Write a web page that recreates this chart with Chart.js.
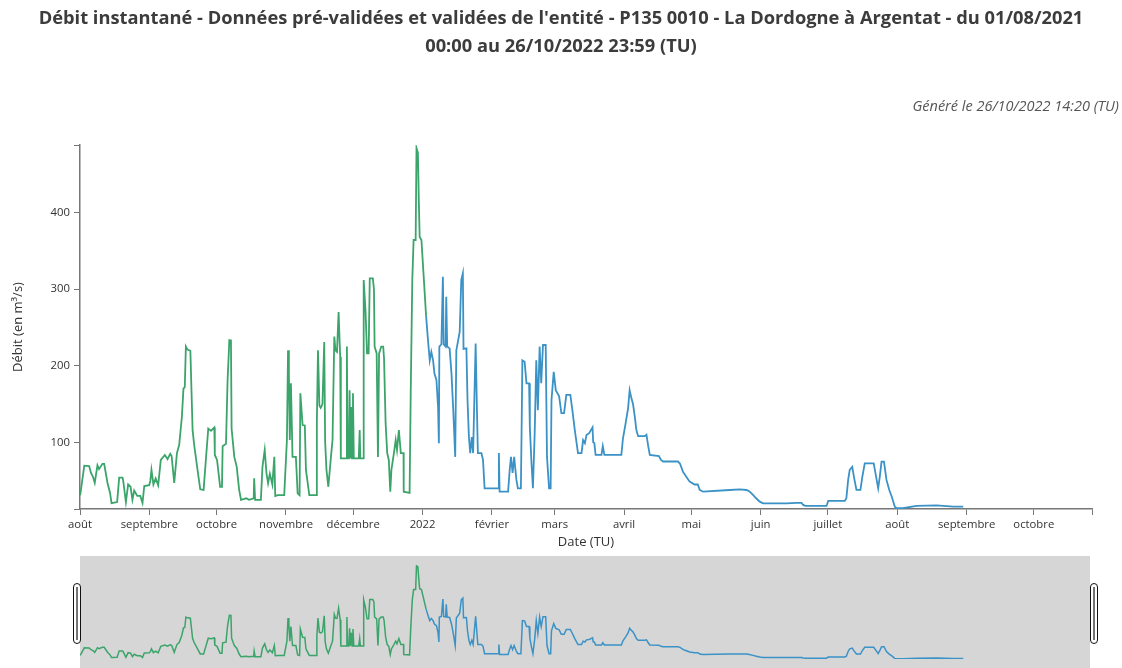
<!DOCTYPE html>
<html><head><meta charset="utf-8">
<script src="https://cdn.jsdelivr.net/npm/chart.js@4/dist/chart.umd.min.js"></script>
<style>
body{margin:0;background:#fff;width:1122px;height:668px;overflow:hidden;position:relative;font-family:'Open Sans',sans-serif;}
#t{position:absolute;left:0;top:3px;width:1122px;text-align:center;font-weight:bold;font-size:18.3px;line-height:28px;color:#3c3c3c;}
#g{position:absolute;right:3px;top:97px;font-style:italic;font-size:14.5px;line-height:18px;color:#555;}
#main{position:absolute;left:0;top:0;}
#nav{position:absolute;left:0;top:550px;}
</style></head><body>
<canvas id="main" width="1122" height="560"></canvas>
<canvas id="nav" width="1122" height="118"></canvas>
<div id="t">Débit instantané - Données pré-validées et validées de l'entité - P135 0010 - La Dordogne à Argentat - du 01/08/2021<br>00:00 au 26/10/2022 23:59 (TU)</div>
<div id="g">Généré le 26/10/2022 14:20 (TU)</div>
<script>
// ---- data ----
const xTickDates = ['2021-08-01','2021-09-01','2021-10-01','2021-11-01','2021-12-01','2022-01-01','2022-02-01','2022-03-01','2022-04-01','2022-05-01','2022-06-01','2022-07-01','2022-08-01','2022-09-01','2022-10-01'];
const xTickLabels = ['août','septembre','octobre','novembre','décembre','2022','février','mars','avril','mai','juin','juillet','août','septembre','octobre'];
const yTickValues = [100,200,300,400];

const greenDates = [
'2021-08-01 02:00','2021-08-02 22:00','2021-08-05 02:00','2021-08-05 22:00','2021-08-06 19:00','2021-08-07 14:00','2021-08-08 19:00','2021-08-09 12:00','2021-08-11 00:00','2021-08-11 19:00','2021-08-13 07:00','2021-08-14 10:00','2021-08-15 02:00','2021-08-17 14:00','2021-08-18 12:00','2021-08-20 00:00','2021-08-20 07:00','2021-08-21 12:00','2021-08-22 12:00','2021-08-23 14:00','2021-08-24 10:00','2021-08-25 05:00','2021-08-26 14:00','2021-08-27 22:00','2021-08-28 22:00','2021-08-29 17:00','2021-08-31 22:00',
'2021-09-01 10:00','2021-09-01 22:00','2021-09-02 19:00','2021-09-03 19:00','2021-09-04 22:00','2021-09-06 02:00','2021-09-07 22:00','2021-09-09 02:00','2021-09-10 07:00','2021-09-10 22:00','2021-09-12 02:00','2021-09-13 07:00','2021-09-14 07:00','2021-09-15 12:00','2021-09-16 05:00','2021-09-16 19:00','2021-09-17 07:00','2021-09-18 00:00','2021-09-19 07:00','2021-09-20 07:00','2021-09-21 00:00','2021-09-22 12:00','2021-09-23 17:00','2021-09-25 05:00','2021-09-26 05:00','2021-09-27 07:00','2021-09-28 12:00','2021-09-30 00:00','2021-09-30 05:00',
'2021-10-01 05:00','2021-10-02 14:00','2021-10-03 10:00','2021-10-03 17:00','2021-10-05 05:00','2021-10-05 22:00','2021-10-06 17:00','2021-10-07 10:00','2021-10-07 17:00','2021-10-08 22:00','2021-10-10 00:00','2021-10-11 02:00','2021-10-11 22:00','2021-10-14 07:00','2021-10-15 12:00','2021-10-17 14:00','2021-10-17 19:00','2021-10-18 05:00','2021-10-20 19:00','2021-10-21 12:00','2021-10-22 12:00','2021-10-23 07:00','2021-10-24 00:00','2021-10-24 19:00','2021-10-25 22:00','2021-10-26 19:00','2021-10-27 05:00','2021-10-28 10:00','2021-10-31 05:00',
'2021-11-01 10:00','2021-11-01 22:00','2021-11-02 07:00','2021-11-02 17:00','2021-11-03 05:00','2021-11-03 22:00','2021-11-05 10:00','2021-11-06 05:00','2021-11-07 02:00','2021-11-07 10:00','2021-11-08 10:00','2021-11-09 10:00','2021-11-09 22:00','2021-11-11 10:00','2021-11-14 10:00','2021-11-14 19:00','2021-11-15 07:00','2021-11-15 22:00','2021-11-16 12:00','2021-11-17 07:00','2021-11-18 02:00','2021-11-18 12:00','2021-11-19 02:00','2021-11-19 22:00','2021-11-21 02:00','2021-11-21 19:00','2021-11-22 14:00','2021-11-23 02:00','2021-11-23 19:00','2021-11-24 12:00','2021-11-25 05:00','2021-11-25 12:00','2021-11-26 12:00','2021-11-27 07:00','2021-11-27 22:00','2021-11-28 05:00','2021-11-28 12:00','2021-11-29 02:00','2021-11-29 10:00','2021-11-29 17:00','2021-11-30 05:00','2021-11-30 12:00','2021-11-30 22:00',
'2021-12-01 07:00','2021-12-03 12:00','2021-12-03 22:00','2021-12-04 05:00','2021-12-05 10:00','2021-12-05 17:00','2021-12-06 12:00','2021-12-07 05:00','2021-12-07 22:00','2021-12-08 10:00','2021-12-09 19:00','2021-12-10 07:00','2021-12-10 14:00','2021-12-11 12:00','2021-12-12 02:00','2021-12-12 14:00','2021-12-13 14:00','2021-12-14 10:00','2021-12-14 19:00','2021-12-15 12:00','2021-12-16 05:00','2021-12-16 22:00','2021-12-17 14:00','2021-12-18 02:00','2021-12-19 05:00','2021-12-20 00:00','2021-12-20 14:00','2021-12-21 10:00','2021-12-22 07:00','2021-12-23 12:00','2021-12-23 14:00','2021-12-26 05:00','2021-12-26 17:00','2021-12-27 10:00','2021-12-28 00:00','2021-12-28 22:00','2021-12-29 07:00','2021-12-29 22:00','2021-12-30 07:00','2021-12-30 17:00','2021-12-31 12:00','2022-01-01 10:00','2022-01-02 10:00','2022-01-02 14:00'];
const greenValues = [
31,69.5,69,60,55,47,70,65,72,72,47,34,20.5,22,54,54,50,22,45,42,25,37,30,30,21,43,44,
50,64,45,53,44,77,83.5,78,85,82,47,86,96.5,133,170,172,225,221,219.5,116,96.5,64,38.7,38,77,118,115,119.5,83.5,
77,42,42,95,98,181,233.5,233,118,81,68,38,25,27,25,27,53,25,25,68,90,59.6,46.6,59,45,81,30,31,31,
103,220,190,103,177,81,81,33.5,31,164,122.6,122,64,31,31,127,220,148,145,150,231,100,64,42,81,103,238,220,218,270,211.7,79,79,79,79,225,79,79,168,79,146,79,164,
79,79,116,79,79,311.7,272.6,216,216,314,314,300,225,216,81,216,225,225,210,125,86,77,35.6,64,86,103,90,116,86,86,35.6,34,164,311.7,364,364,484,478,420,368,364,320.5,272.6,265];

const blueDates = [
'2022-01-02 14:00','2022-01-03 10:00','2022-01-04 05:00','2022-01-04 22:00','2022-01-05 17:00','2022-01-06 07:00','2022-01-07 05:00','2022-01-07 22:00','2022-01-08 07:00','2022-01-08 12:00','2022-01-09 10:00','2022-01-10 02:00','2022-01-10 10:00','2022-01-11 07:00','2022-01-11 14:00','2022-01-12 00:00','2022-01-13 02:00','2022-01-13 22:00','2022-01-14 17:00','2022-01-15 14:00','2022-01-16 02:00','2022-01-17 14:00','2022-01-18 07:00','2022-01-19 00:00','2022-01-19 07:00','2022-01-20 14:00','2022-01-21 02:00','2022-01-21 17:00','2022-01-22 07:00','2022-01-23 00:00','2022-01-23 14:00','2022-01-24 17:00','2022-01-25 07:00','2022-01-25 17:00','2022-01-27 07:00','2022-01-28 00:00','2022-01-28 17:00',
'2022-02-03 17:00','2022-02-04 02:00','2022-02-04 10:00','2022-02-08 05:00','2022-02-08 22:00','2022-02-09 12:00','2022-02-10 05:00','2022-02-10 22:00','2022-02-11 22:00','2022-02-12 14:00','2022-02-13 22:00','2022-02-14 07:00','2022-02-14 14:00','2022-02-15 14:00','2022-02-16 10:00','2022-02-17 14:00','2022-02-17 22:00','2022-02-18 14:00','2022-02-19 07:00','2022-02-20 02:00','2022-02-20 19:00','2022-02-21 12:00','2022-02-22 07:00','2022-02-23 00:00','2022-02-23 19:00','2022-02-25 00:00','2022-02-25 14:00','2022-02-26 12:00','2022-02-27 05:00','2022-02-27 14:00','2022-02-28 14:00',
'2022-03-01 12:00','2022-03-03 00:00','2022-03-04 00:00','2022-03-05 05:00','2022-03-06 05:00','2022-03-08 00:00','2022-03-08 22:00','2022-03-10 00:00','2022-03-11 10:00','2022-03-13 00:00','2022-03-13 17:00','2022-03-14 12:00','2022-03-15 05:00','2022-03-16 10:00','2022-03-17 22:00','2022-03-18 05:00','2022-03-18 17:00','2022-03-19 07:00','2022-03-21 22:00','2022-03-22 12:00','2022-03-23 05:00','2022-03-30 19:00','2022-03-31 12:00',
'2022-04-01 17:00','2022-04-02 19:00','2022-04-03 12:00','2022-04-04 07:00','2022-04-05 00:00','2022-04-05 19:00','2022-04-06 12:00','2022-04-07 07:00','2022-04-10 05:00','2022-04-11 00:00','2022-04-11 19:00','2022-04-12 12:00','2022-04-16 14:00','2022-04-17 12:00','2022-04-18 10:00','2022-04-25 02:00','2022-04-26 00:00','2022-04-27 07:00','2022-04-28 19:00','2022-04-30 07:00',
'2022-05-02 12:00','2022-05-03 22:00','2022-05-04 19:00','2022-05-06 07:00','2022-05-18 05:00','2022-05-22 17:00','2022-05-25 17:00','2022-05-27 00:00','2022-05-28 14:00','2022-05-30 00:00','2022-05-31 14:00',
'2022-06-02 02:00','2022-06-12 12:00','2022-06-17 00:00','2022-06-19 07:00','2022-06-20 00:00','2022-06-21 00:00','2022-06-30 10:00',
'2022-07-01 05:00','2022-07-08 14:00','2022-07-09 07:00','2022-07-10 02:00','2022-07-10 19:00','2022-07-11 22:00','2022-07-12 19:00','2022-07-13 19:00','2022-07-15 14:00','2022-07-16 10:00','2022-07-17 12:00','2022-07-21 12:00','2022-07-22 14:00','2022-07-23 12:00','2022-07-24 05:00','2022-07-25 00:00','2022-07-26 02:00','2022-07-27 05:00','2022-07-28 10:00','2022-07-29 14:00','2022-07-30 22:00','2022-07-31 17:00',
'2022-08-03 14:00','2022-08-09 14:00','2022-08-18 14:00','2022-08-26 00:00','2022-08-30 12:00'];
const blueValues = [
265,233.5,207,218,207,190,181,146.5,98.7,225,228,316,228,225,290,225,222.6,190,142,81,220,244,311.7,320.5,222,222.6,155,107,86,107,86,229,142,86,86,77,40,
40,86,35.6,35.6,64,81,60,81,51,40,40,129,207,205,177,177,120,77,40,112,207,142,225,177,227,227,81,40,40,155,192,
168,160,138,138,162,162,142,116,86,86,103,99,109.6,112,119.6,100,99,83.5,83.5,95,83.5,83.5,105,
125,144.4,168,157.4,150,133.4,116,108,108,110,95,83.5,82,77,75,75,72,61.7,55,48.7,
45,45,38,35.6,37.8,38.7,37.8,36,31.3,27,22.6,
20.4,20.4,21,21,18.3,17,17,
23.5,23.5,27,51,64,68,53,38,38,55,72.6,72.6,55,40,55,74.8,74.8,51,38,29,16,14,
14,17,17.8,16,16];

const Y_MIN = 13, Y_MAX = 488;
const GREEN = '#3ba46a', BLUE = '#3a92c6';

// ---- helpers ----
function toMs(s){ const [d,t] = s.split(' '); const [Y,M,D] = d.split('-').map(Number); const [h,m] = (t||'00:00').split(':').map(Number); return Date.UTC(Y,M-1,D,h,m); }
const pts = (ds, vs) => ds.map((d,i)=>({x:toMs(d), y:vs[i]}));
const X_MIN = toMs('2021-08-01 00:00'), X_MAX = toMs('2022-10-26 23:59');
const FONT = 'Open Sans';

function datasets(w){
  return [
    {data:pts(greenDates,greenValues), borderColor:GREEN, borderWidth:w, pointRadius:0, fill:false, tension:0},
    {data:pts(blueDates,blueValues), borderColor:BLUE, borderWidth:w, pointRadius:0, fill:false, tension:0}
  ];
}

new Chart(document.getElementById('main'), {
  type:'line',
  data:{datasets:datasets(1.8)},
  options:{
    responsive:false, animation:false, devicePixelRatio:1,
    layout:{padding:{left:0,right:30,top:145,bottom:0}},
    plugins:{legend:{display:false}, tooltip:{enabled:false}},
    scales:{
      x:{type:'linear', min:X_MIN, max:X_MAX,
        afterBuildTicks:s=>{ s.ticks = xTickDates.map(d=>({value:toMs(d+' 00:00')})).concat([{value:X_MAX}]); },
        afterFit:s=>{ s.height = 51; },
        ticks:{autoSkip:false, maxRotation:0, minRotation:0, padding:3, color:'#333', font:{family:FONT,size:11.3},
          callback:(v,i)=> (i < xTickLabels.length ? xTickLabels[i] : '')},
        grid:{display:true, drawOnChartArea:false, drawTicks:true, tickLength:6, color:'#777', lineWidth:1},
        border:{display:true, color:'#777', width:1.5},
        title:{display:true, text:'Date (TU)', color:'#333', font:{family:FONT,size:13}, padding:{top:0,bottom:10}}
      },
      y:{type:'linear', min:Y_MIN, max:Y_MAX,
        afterBuildTicks:s=>{ s.ticks = [Y_MIN].concat(yTickValues, [Y_MAX]).map(v=>({value:v})); },
        afterFit:s=>{ s.width = 80; },
        ticks:{padding:4, color:'#333', font:{family:FONT,size:11.3}, callback:v=> yTickValues.includes(v) ? String(v) : ''},
        grid:{display:true, drawOnChartArea:false, drawTicks:true, tickLength:6, color:'#777', lineWidth:1},
        border:{display:true, color:'#777', width:1.5},
        title:{display:true, text:'Débit (en m³/s)', color:'#333', font:{family:FONT,size:13}, padding:{top:10,bottom:0}}
      }
    }
  }
});

const navDecor = {
  id:'navDecor',
  beforeDraw(chart){
    const ctx = chart.ctx, a = chart.chartArea;
    ctx.save(); ctx.fillStyle = '#d6d6d6';
    ctx.fillRect(a.left, 6, a.right - a.left - 2, chart.height - 6);
    ctx.restore();
  },
  afterDraw(chart){
    const ctx = chart.ctx, a = chart.chartArea;
    const hs = [a.left - 7, a.right - 2];
    ctx.save();
    hs.forEach(x=>{
      ctx.beginPath(); ctx.roundRect(x+0.5, 33.5, 7, 60, 3.5);
      ctx.fillStyle='#fff'; ctx.fill(); ctx.strokeStyle='#111'; ctx.lineWidth=1; ctx.stroke();
      ctx.beginPath(); ctx.moveTo(x+4, 37); ctx.lineTo(x+4, 90); ctx.strokeStyle='#444'; ctx.lineWidth=1.5; ctx.stroke();
    });
    ctx.restore();
  }
};

new Chart(document.getElementById('nav'), {
  type:'line',
  data:{datasets:datasets(1.5)},
  options:{
    responsive:false, animation:false, devicePixelRatio:1,
    layout:{padding:{left:80,right:30,top:15,bottom:9}},
    plugins:{legend:{display:false}, tooltip:{enabled:false}},
    scales:{
      x:{type:'linear', min:X_MIN, max:X_MAX, display:false},
      y:{type:'linear', min:Y_MIN, max:Y_MAX, display:false}
    }
  },
  plugins:[navDecor]
});
</script>
</body></html>
